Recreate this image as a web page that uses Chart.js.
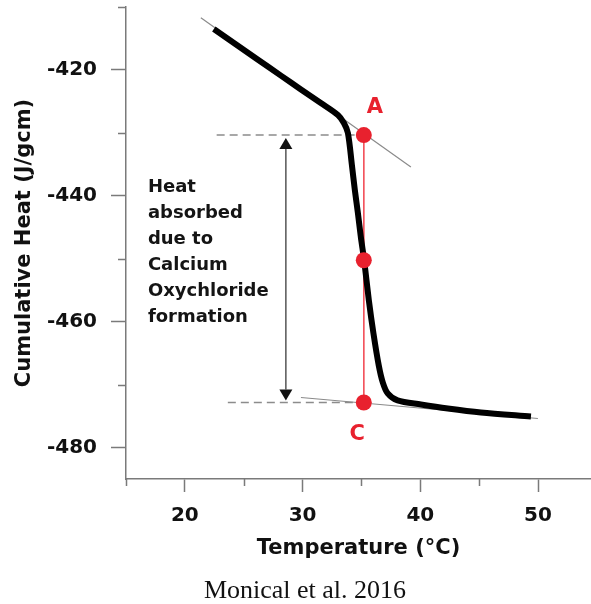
<!DOCTYPE html>
<html>
<head>
<meta charset="utf-8">
<script src="https://cdn.jsdelivr.net/npm/chart.js@4/dist/chart.umd.min.js"></script>
<style>
  html, body { margin: 0; padding: 0; background: #ffffff; }
  #wrap { width: 591px; height: 604px; }
</style>
</head>
<body>
<div id="wrap"><canvas id="c" width="591" height="604"></canvas></div>
<script>
// ---- data ----
const temperature = [22.46, 26.12, 28.16, 29.86, 31.55, 33.00, 33.51, 33.85, 34.19, 34.44, 34.70, 34.95, 35.23, 35.63, 36.02, 36.47, 36.81, 37.23, 38.07, 40.05, 42.34, 45.15, 49.40];
const cumulativeHeat = [-413.5, -418.25, -420.9, -423.1, -425.25, -427.16, -428.44, -430.03, -435.12, -439.10, -442.76, -446.58, -450.24, -456.61, -461.86, -466.95, -469.65, -471.40, -472.52, -473.16, -473.80, -474.43, -475.07];

const xMajorTicks = [20, 30, 40, 50];
const xMinorTicks = [15, 25, 35, 45];
const yMajorTicks = [-480, -460, -440, -420];
const yMinorTicks = [-470, -450, -430, -410];

const upperTangentX = [21.36, 39.20];
const upperTangentY = [-411.72, -435.44];
const lowerTangentX = [29.86, 49.99];
const lowerTangentY = [-472.05, -475.39];

const markerTemp = [35.2, 35.2, 35.2];
const markerHeat = [-430.35, -450.24, -472.84];

const dashStartX = [22.7, 23.65];
const dashHeat = [-430.35, -472.84];

const arrowTemp = 28.58;
const arrowHeat = [-430.82, -472.52];

const pointLabels = ['A', 'C'];
const pointLabelTemp = [36.14, 34.65];
const pointLabelHeat = [-425.97, -477.86];

const noteLines = ['Heat', 'absorbed', 'due to', 'Calcium', 'Oxychloride', 'formation'];
const noteTemp = 16.86;
const noteHeat = -439.42;

const caption = 'Monical et al. 2016';

// ---- build ----
const pts = (xs, ys) => xs.map((x, i) => ({x: x, y: ys[i]}));
const RED = '#e8212e';
const AXIS = '#7a7a7a';
const BOLD = '"DejaVu Sans", sans-serif';

const minorTicksPlugin = {
  id: 'minorTicks',
  afterDraw(chart) {
    const {ctx, scales: {x, y}} = chart;
    ctx.save();
    ctx.strokeStyle = AXIS;
    ctx.lineWidth = 1.5;
    ctx.beginPath();
    xMinorTicks.forEach(v => {
      const px = Math.round(x.getPixelForValue(v)) + 0.5;
      ctx.moveTo(px, x.top); ctx.lineTo(px, x.top + 7);
    });
    yMinorTicks.forEach(v => {
      const py = Math.round(y.getPixelForValue(v)) + 0.5;
      ctx.moveTo(y.right, py); ctx.lineTo(y.right - 8, py);
    });
    ctx.stroke();
    ctx.restore();
  }
};

const annotationPlugin = {
  id: 'annotations',
  afterDatasetsDraw(chart) {
    const {ctx, scales: {x, y}} = chart;
    ctx.save();
    // double arrow
    const ax = x.getPixelForValue(arrowTemp);
    const top = y.getPixelForValue(arrowHeat[0]);
    const bot = y.getPixelForValue(arrowHeat[1]);
    const hw = 6.5, hh = 11;
    ctx.strokeStyle = '#555';
    ctx.lineWidth = 1.5;
    ctx.beginPath();
    ctx.moveTo(ax, top + hh); ctx.lineTo(ax, bot - hh);
    ctx.stroke();
    ctx.fillStyle = '#111';
    ctx.beginPath();
    ctx.moveTo(ax, top); ctx.lineTo(ax - hw, top + hh); ctx.lineTo(ax + hw, top + hh); ctx.closePath();
    ctx.fill();
    ctx.beginPath();
    ctx.moveTo(ax, bot); ctx.lineTo(ax - hw, bot - hh); ctx.lineTo(ax + hw, bot - hh); ctx.closePath();
    ctx.fill();

    // note text
    ctx.fillStyle = '#141414';
    ctx.font = 'bold 18px ' + BOLD;
    ctx.textAlign = 'left';
    ctx.textBaseline = 'alphabetic';
    const nx = x.getPixelForValue(noteTemp);
    const ny = y.getPixelForValue(noteHeat);
    noteLines.forEach((t, i) => ctx.fillText(t, nx, ny + i * 26));

    // point labels
    ctx.fillStyle = RED;
    ctx.font = 'bold 21px ' + BOLD;
    ctx.textAlign = 'center';
    ctx.textBaseline = 'middle';
    pointLabels.forEach((t, i) => {
      ctx.fillText(t, x.getPixelForValue(pointLabelTemp[i]), y.getPixelForValue(pointLabelHeat[i]));
    });
    ctx.restore();
  },
  afterDraw(chart) {
    const {ctx} = chart;
    ctx.save();
    ctx.fillStyle = '#111';
    ctx.font = '26px "Liberation Serif", "Times New Roman", serif';
    ctx.textAlign = 'center';
    ctx.textBaseline = 'alphabetic';
    ctx.fillText(caption, 305, 598);
    ctx.restore();
  }
};

new Chart(document.getElementById('c'), {
  type: 'scatter',
  data: {
    datasets: [
      {
        label: 'markers',
        data: pts(markerTemp, markerHeat),
        showLine: false,
        pointRadius: 8,
        pointBackgroundColor: RED,
        pointBorderColor: RED,
        pointBorderWidth: 0,
        order: 0
      },
      {
        label: 'cumulative heat',
        data: pts(temperature, cumulativeHeat),
        showLine: true,
        borderColor: '#000',
        borderWidth: 6,
        pointRadius: 0,
        tension: 0.3,
        borderCapStyle: 'butt',
        borderJoinStyle: 'round',
        order: 1
      },
      {
        label: 'red line',
        data: pts([markerTemp[0], markerTemp[2]], [markerHeat[0], markerHeat[2]]),
        showLine: true,
        borderColor: '#f2505a',
        borderWidth: 1,
        pointRadius: 0,
        order: 2
      },
      {
        label: 'upper tangent',
        data: pts(upperTangentX, upperTangentY),
        showLine: true,
        borderColor: '#8a8a8a',
        borderWidth: 1.2,
        pointRadius: 0,
        order: 3
      },
      {
        label: 'lower tangent',
        data: pts(lowerTangentX, lowerTangentY),
        showLine: true,
        borderColor: '#8a8a8a',
        borderWidth: 1.2,
        pointRadius: 0,
        order: 3
      },
      {
        label: 'upper dash',
        data: pts([dashStartX[0], markerTemp[0]], [dashHeat[0], dashHeat[0]]),
        showLine: true,
        borderColor: '#8c8c8c',
        borderWidth: 1.6,
        borderDash: [8, 5],
        pointRadius: 0,
        order: 4
      },
      {
        label: 'lower dash',
        data: pts([dashStartX[1], markerTemp[2]], [dashHeat[1], dashHeat[1]]),
        showLine: true,
        borderColor: '#8c8c8c',
        borderWidth: 1.6,
        borderDash: [8, 5],
        pointRadius: 0,
        order: 4
      }
    ]
  },
  options: {
    responsive: false,
    animation: false,
    events: [],
    layout: { autoPadding: false, padding: { left: 0, right: 0, top: 7, bottom: 29 } },
    plugins: { legend: { display: false }, tooltip: { enabled: false }, title: { display: false } },
    scales: {
      x: {
        type: 'linear',
        min: 15,
        max: 54.5,
        afterBuildTicks: s => { s.ticks = xMajorTicks.map(v => ({value: v})); },
        afterFit: s => { s.height = 96; s.paddingLeft = 0; s.paddingRight = 0; },
        grid: { drawOnChartArea: false, drawTicks: true, tickLength: 13, tickColor: AXIS, tickWidth: 1.5 },
        border: { display: true, color: AXIS, width: 1.5 },
        ticks: { padding: 12, color: '#111', font: { family: BOLD, size: 20, weight: 'bold' }, maxRotation: 0 },
        title: { display: true, text: 'Temperature (°C)', color: '#111', font: { family: BOLD, size: 21, weight: 'bold' }, padding: { top: 0, bottom: 14 } }
      },
      y: {
        type: 'linear',
        min: -485,
        max: -410,
        afterBuildTicks: s => { s.ticks = yMajorTicks.map(v => ({value: v})); },
        afterFit: s => { s.width = 126; s.paddingTop = 0; s.paddingBottom = 0; },
        grid: { drawOnChartArea: false, drawTicks: true, tickLength: 15, tickColor: AXIS, tickWidth: 1.5 },
        border: { display: true, color: AXIS, width: 1.5 },
        ticks: { padding: 14, color: '#111', font: { family: BOLD, size: 20, weight: 'bold' } },
        title: { display: true, text: 'Cumulative Heat (J/gcm)', color: '#111', font: { family: BOLD, size: 21, weight: 'bold' }, padding: { top: 12, bottom: 0 } }
      }
    }
  },
  plugins: [minorTicksPlugin, annotationPlugin]
});
</script>
</body>
</html>
